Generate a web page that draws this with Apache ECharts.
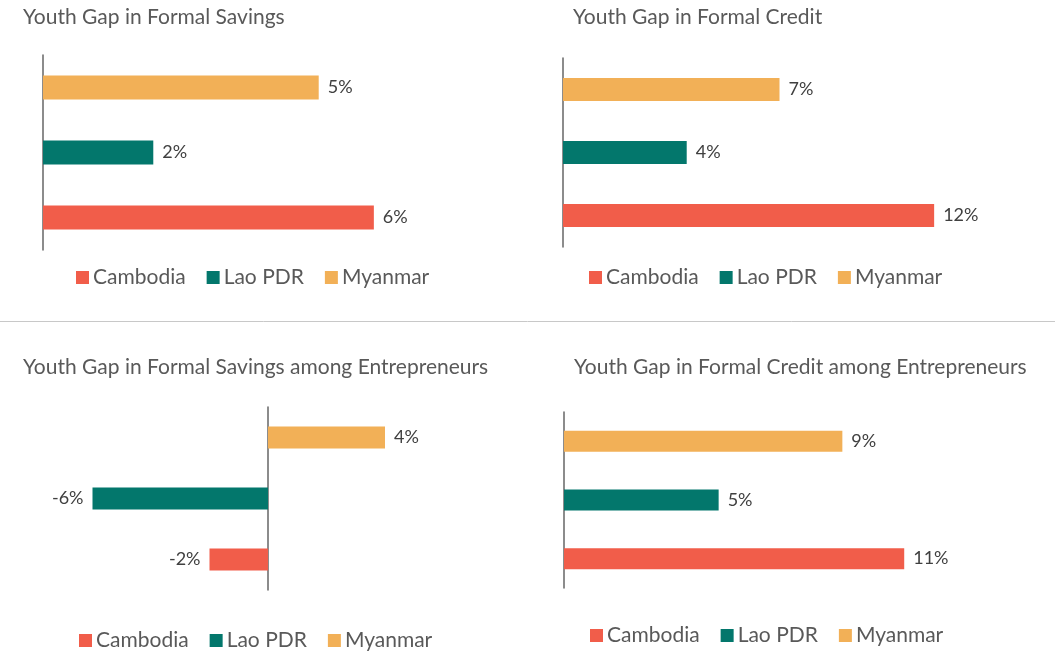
<!DOCTYPE html>
<html>
<head>
<meta charset="utf-8">
<script src="https://cdn.jsdelivr.net/npm/echarts@6/dist/echarts.min.js"></script>
<style>
  html, body { margin: 0; padding: 0; background: #fff; }
  #main { width: 1055px; height: 653px; }
</style>
</head>
<body>
<div id="main"></div>
<script>
// data
var countries = ['Cambodia', 'Lao PDR', 'Myanmar'];
var colors = ['#F15D4A', '#03776C', '#F2B057'];
var titles = [
    'Youth Gap in Formal Savings',
    'Youth Gap in Formal Credit',
    'Youth Gap in Formal Savings among Entrepreneurs',
    'Youth Gap in Formal Credit among Entrepreneurs'
];
var savings = [6, 2, 5];
var credit = [12, 4, 7];
var savingsEntre = [-2, -6, 4];
var creditEntre = [11, 5, 9];
var panelData = [savings, credit, savingsEntre, creditEntre];

// panel layout (pixels)
var panels = [
    {title: [23, 7],    grid: [43, 55, 386, 195],    min: 0,  max: 7,  bar: 24, legend: [76, 267]},
    {title: [573, 7],   grid: [563, 58, 433, 189],   min: 0,  max: 14, bar: 23, legend: [589, 267]},
    {title: [23, 357],  grid: [34, 407, 409.5, 183], min: -8, max: 6,  bar: 22, legend: [79, 630]},
    {title: [574, 357], grid: [564, 412, 433, 176],  min: 0,  max: 14, bar: 21, legend: [590, 625]}
];

var font = 'Lato, "Noto Sans", sans-serif';
var chart = echarts.init(document.getElementById('main'));

var option = {
    animation: false,
    title: [], grid: [], xAxis: [], yAxis: [], legend: [], series: [],
    graphic: [{
        type: 'line',
        shape: {x1: 0, y1: 321.5, x2: 1055, y2: 321.5},
        style: {stroke: '#c8c8c8', lineWidth: 1}
    }]
};

panels.forEach(function (p, i) {
    option.title.push({
        text: titles[i], left: p.title[0], top: p.title[1], padding: 0,
        textStyle: {fontFamily: font, fontSize: 21, fontWeight: 'normal', color: '#595959'}
    });
    option.grid.push({left: p.grid[0], top: p.grid[1], width: p.grid[2], height: p.grid[3]});
    option.xAxis.push({
        type: 'value', gridIndex: i, min: p.min, max: p.max, show: false
    });
    option.yAxis.push({
        type: 'category', gridIndex: i, data: countries,
        axisLine: {show: true, onZero: true, lineStyle: {color: '#666666', width: 1.5}},
        axisTick: {show: false}, axisLabel: {show: false}, splitLine: {show: false}
    });
    option.legend.push({
        left: p.legend[0], top: p.legend[1], padding: 0,
        itemWidth: 13, itemHeight: 13, itemGap: 21,
        icon: 'rect', data: countries,
        textStyle: {fontFamily: font, fontSize: 21, color: '#595959', padding: [0, 0, 0, -1]}
    });
    countries.forEach(function (c, k) {
        var vals = panelData[i];
        var data = vals.map(function (v, j) {
            if (j !== k) return '-';
            return {value: v, label: {position: v < 0 ? 'left' : 'right'}};
        });
        option.series.push({
            name: c, type: 'bar', xAxisIndex: i, yAxisIndex: i, stack: 'p' + i,
            barWidth: p.bar, itemStyle: {color: colors[k]}, data: data,
            label: {
                show: true, distance: 9, formatter: '{c}%',
                fontFamily: font, fontSize: 18, color: '#404040'
            }
        });
    });
});

chart.setOption(option);
</script>
</body>
</html>
